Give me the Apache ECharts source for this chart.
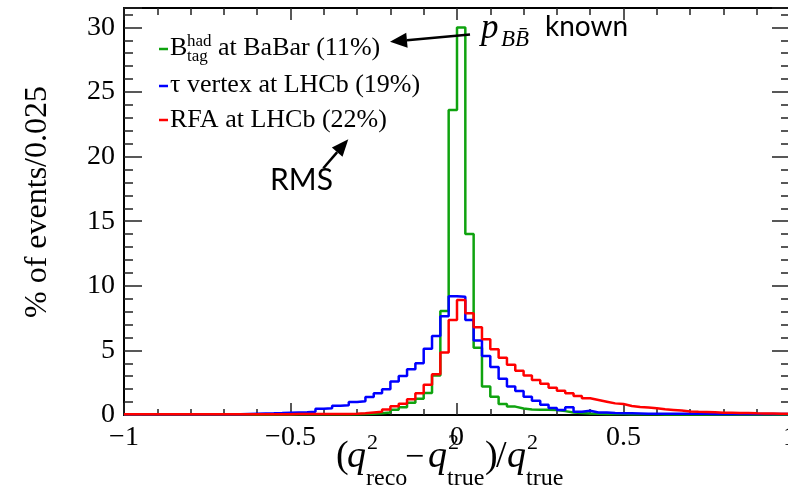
<!DOCTYPE html>
<html>
<head>
<meta charset="utf-8">
<script src="https://cdn.jsdelivr.net/npm/echarts@6/dist/echarts.min.js"></script>
<style>
html,body{margin:0;padding:0;background:#fff;}
#chart{width:788px;height:494px;}
</style>
</head>
<body>
<div id="chart"></div>
<script>
// Histogram binning
const BIN_START = -1;
const BIN_WIDTH = 0.025;
const N_BINS = 80;

// Tick labels
const xTickLabels = {"-1": "\u22121", "-0.5": "\u22120.5", "0": "0", "0.5": "0.5", "1": "1"};
const yTickLabels = ["0", "5", "10", "15", "20", "25", "30"];

// Series names
const seriesNames = ["BaBar", "tau vertex LHCb", "RFA LHCb"];

// % of events per 0.025 bin (80 bins from -1 to 1)
const babar = [
  0.03,0.03,0.03,0.03,0.03,0.03,0.03,0.03,0.03,0.03,
  0.03,0.03,0.03,0.03,0.03,0.03,0.03,0.03,0.03,0.03,
  0.05,0.05,0.05,0.05,0.05,0.05,0.05,0.05,0.08,0.10,
  0.13,0.20,0.40,0.60,0.95,1.25,1.70,3.05,8.05,23.6,
  30.0,14.0,5.20,2.20,1.42,0.85,0.65,0.50,0.42,0.40,
  0.40,0.38,0.30,0.20,0.15,0.12,0.10,0.08,0.08,0.07,
  0.06,0.05,0.05,0.05,0.04,0.04,0.04,0.04,0.04,0.04,
  0.03,0.03,0.03,0.03,0.03,0.03,0.03,0.03,0.03,0.03
];
const tauVertex = [
  0.05,0.05,0.05,0.05,0.05,0.05,0.05,0.05,0.05,0.05,
  0.05,0.05,0.05,0.05,0.08,0.10,0.12,0.13,0.15,0.18,
  0.20,0.22,0.25,0.48,0.52,0.72,0.76,1.00,1.06,1.40,
  1.68,2.00,2.60,3.02,3.54,4.00,5.12,6.12,7.65,9.20,
  9.15,7.36,5.76,4.57,3.72,2.80,2.20,1.85,1.42,1.10,
  0.80,0.55,0.39,0.60,0.26,0.33,0.20,0.20,0.15,0.14,
  0.13,0.12,0.10,0.10,0.10,0.10,0.10,0.10,0.10,0.10,
  0.07,0.07,0.07,0.07,0.07,0.07,0.07,0.07,0.07,0.07
];
const rfa = [
  0.05,0.05,0.05,0.05,0.05,0.05,0.05,0.05,0.05,0.05,
  0.05,0.05,0.05,0.05,0.05,0.05,0.05,0.05,0.05,0.05,
  0.08,0.08,0.08,0.08,0.08,0.08,0.08,0.10,0.13,0.20,
  0.26,0.42,0.67,0.88,1.22,1.68,2.35,3.15,4.83,7.36,
  8.90,7.88,6.80,5.87,5.09,4.43,3.88,3.43,3.06,2.71,
  2.42,2.10,1.88,1.68,1.47,1.29,1.16,1.03,0.90,0.85,
  0.70,0.62,0.58,0.52,0.44,0.39,0.34,0.28,0.25,0.23,
  0.21,0.18,0.17,0.16,0.15,0.13,0.12,0.11,0.10,0.09
];

const colors = {babar: '#0fa30f', tau: '#0000ff', rfa: '#ff0000'};

function stepData(vals) {
  const out = [];
  for (let i = 0; i < vals.length; i++) {
    out.push([BIN_START + BIN_WIDTH * i, vals[i]]);
  }
  out.push([BIN_START + BIN_WIDTH * vals.length, vals[vals.length - 1]]);
  return out;
}

const SERIF = '"Liberation Serif", "Times New Roman", serif';
const SANS = 'Lato, "Open Sans", sans-serif';

function txt(text, x, y, size, opts) {
  opts = opts || {};
  return {
    type: 'text', x: x, y: y, rotation: opts.rotation || 0, z: 100,
    style: {
      text: text,
      fontFamily: opts.family || SERIF,
      fontSize: size,
      fontStyle: opts.italic ? 'italic' : 'normal',
      fill: opts.color || '#000',
      textAlign: opts.align || 'left', align: opts.align || 'left',
      textVerticalAlign: 'middle', verticalAlign: 'middle'
    }
  };
}
function seg(x1, y1, x2, y2, color, w) {
  return {type: 'line', z: 100, shape: {x1: x1, y1: y1, x2: x2, y2: y2},
          style: {stroke: color, lineWidth: w}};
}
function arrow(x1, y1, tx, ty, headLen, halfW) {
  const dx = tx - x1, dy = ty - y1, L = Math.hypot(dx, dy);
  const ux = dx / L, uy = dy / L, px = -uy, py = ux;
  const bx = tx - headLen * ux, by = ty - headLen * uy;
  return [
    seg(x1, y1, bx, by, '#000', 2.5),
    {type: 'polygon', z: 100, shape: {points: [[tx, ty], [bx + halfW * px, by + halfW * py], [bx - halfW * px, by - halfW * py]]},
     style: {fill: '#000'}}
  ];
}

const axisCommon = {
  axisLine: {show: true, onZero: false, lineStyle: {color: '#000', width: 2}},
  splitLine: {show: false}
};

const chart = echarts.init(document.getElementById('chart'), null, {renderer: 'canvas'});

const graphic = [
  // y-axis title
  txt('% of events/0.025', 38, 202, 32, {rotation: Math.PI / 2, align: 'center'}),
  // x-axis title pieces
  txt('(', 336, 457, 38),
  txt('q', 347, 457, 38, {italic: true}),
  txt('2', 367, 443, 22),
  txt('reco', 366, 479, 24),
  txt('\u2212', 405, 458, 34),
  txt('q', 428, 457, 38, {italic: true}),
  txt('2', 448, 443, 22),
  txt('true', 447, 479, 24),
  txt(')', 485, 457, 38),
  txt('/', 496, 457, 38),
  txt('q', 507, 457, 38, {italic: true}),
  txt('2', 527, 443, 22),
  txt('true', 526, 479, 24),
  // legend
  seg(159, 49, 168, 49, colors.babar, 2.5),
  txt('B', 170, 48, 26),
  txt('had', 187, 41.5, 17),
  txt('tag', 187, 57, 17),
  txt('at BaBar (11%)', 218, 48, 26),
  seg(159, 86, 168, 86, colors.tau, 2.5),
  txt('\u03c4 vertex at LHCb (19%)', 170, 85.5, 26),
  seg(159, 120, 168, 120, colors.rfa, 2.5),
  txt('RFA at LHCb (22%)', 170, 120, 26),
  // annotations
  txt('p', 481, 29, 35, {italic: true}),
  txt('BB\u0304', 501, 40, 23, {italic: true}),
  txt('known', 545, 27, 28, {family: SANS}),
  txt('RMS', 270, 180.5, 30, {family: SANS})
].concat(arrow(470, 34.5, 390, 41.7, 17, 7.5))
 .concat(arrow(323.3, 168.3, 348.3, 139.3, 17, 7));

const option = {
  animation: false,
  backgroundColor: '#fff',
  grid: {left: 124, right: -2, top: 8, bottom: 79, containLabel: false, outerBoundsMode: 'none'},
  xAxis: [
    Object.assign({}, axisCommon, {
      type: 'value', min: -1, max: 1, interval: 0.5, position: 'bottom',
      axisTick: {show: true, inside: true, length: 12, lineStyle: {color: '#222', width: 1.5}},
      minorTick: {show: true, splitNumber: 5, length: 6, lineStyle: {color: '#222', width: 1.5}},
      axisLabel: {show: true, margin: 9, color: '#000', fontFamily: SERIF, fontSize: 28,
        formatter: function (v) { const k = String(Math.round(v * 10) / 10); return xTickLabels[k] !== undefined ? xTickLabels[k] : ''; }}
    }),
    Object.assign({}, axisCommon, {
      type: 'value', min: -1, max: 1, interval: 0.5, position: 'top',
      axisTick: {show: true, inside: true, length: 12, lineStyle: {color: '#222', width: 1.5}},
      minorTick: {show: true, splitNumber: 5, length: 7, lineStyle: {color: '#222', width: 1.5}},
      axisLabel: {show: false}
    })
  ],
  yAxis: [
    Object.assign({}, axisCommon, {
      type: 'value', min: 0, max: 31.5, interval: 5, position: 'left',
      axisTick: {show: true, inside: true, length: 18, lineStyle: {color: '#222', width: 1.5}},
      minorTick: {show: true, splitNumber: 5, length: 9, lineStyle: {color: '#222', width: 1.5}},
      axisLabel: {show: true, margin: 9, color: '#000', fontFamily: SERIF, fontSize: 28, showMaxLabel: false,
        formatter: function (v) { const i = Math.round(v / 5); return (Math.abs(v - i * 5) < 1e-6 && yTickLabels[i]) ? yTickLabels[i] : ''; }}
    }),
    Object.assign({}, axisCommon, {
      type: 'value', min: 0, max: 31.5, interval: 5, position: 'right',
      axisTick: {show: true, inside: true, length: 18, lineStyle: {color: '#222', width: 1.5}},
      minorTick: {show: true, splitNumber: 5, length: 9, lineStyle: {color: '#222', width: 1.5}},
      axisLabel: {show: false}
    })
  ],
  series: [
    {name: seriesNames[0], type: 'line', step: 'end', data: stepData(babar), showSymbol: false, symbol: 'none',
     lineStyle: {color: colors.babar, width: 2.5}, itemStyle: {color: colors.babar}, z: 2},
    {name: seriesNames[1], type: 'line', step: 'end', data: stepData(tauVertex), showSymbol: false, symbol: 'none',
     lineStyle: {color: colors.tau, width: 2.5}, itemStyle: {color: colors.tau}, z: 3},
    {name: seriesNames[2], type: 'line', step: 'end', data: stepData(rfa), showSymbol: false, symbol: 'none',
     lineStyle: {color: colors.rfa, width: 2.5}, itemStyle: {color: colors.rfa}, z: 4}
  ],
  graphic: graphic
};
chart.setOption(option);
</script>
</body>
</html>
